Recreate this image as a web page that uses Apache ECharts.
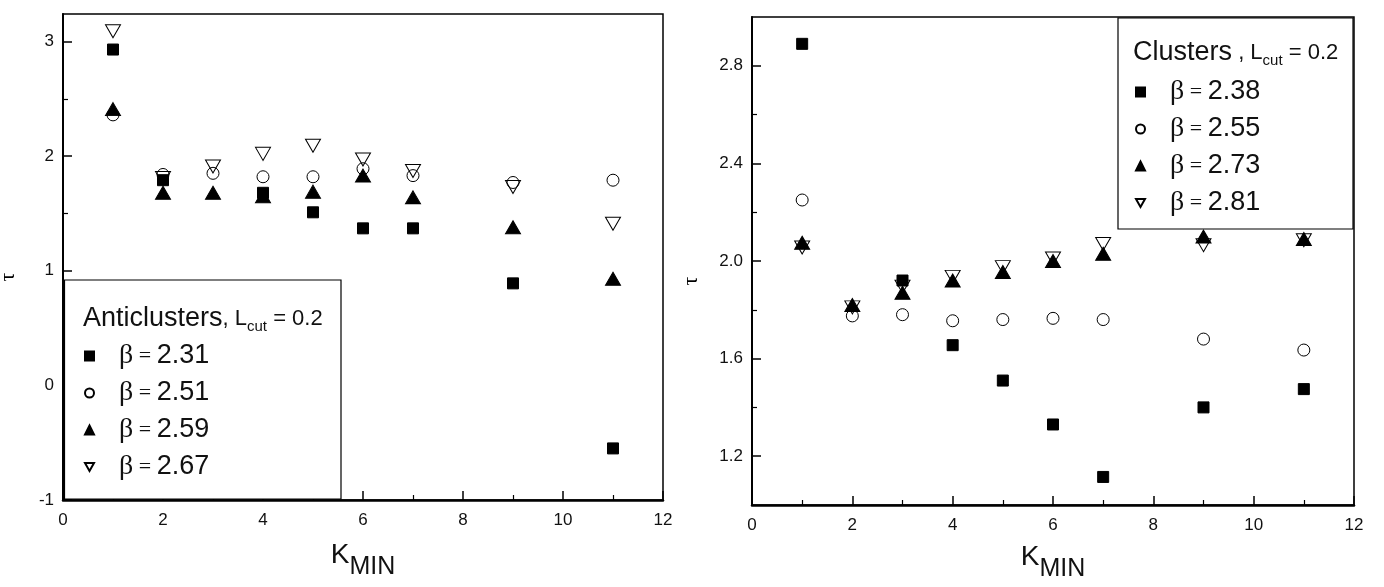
<!DOCTYPE html>
<html>
<head>
<meta charset="utf-8">
<script src="https://cdn.jsdelivr.net/npm/echarts@6/dist/echarts.min.js"></script>
<style>
  html, body { margin: 0; padding: 0; background: #fff; }
  #chart { width: 1384px; height: 587px; }
</style>
</head>
<body>
<div id="chart"></div>
<script>
// K_MIN values where points were measured
const kValues = [1, 2, 3, 4, 5, 6, 7, 9, 11];

// left panel: anticlusters
const betaLeft = [2.31, 2.51, 2.59, 2.67];
const antiSquare = [2.93, 1.79, null, 1.68, 1.51, 1.37, 1.37, 0.89, -0.55];
const antiCircle = [2.36, 1.84, 1.85, 1.82, 1.82, 1.89, 1.83, 1.77, 1.79];
const antiTriUp = [2.41, 1.68, 1.68, 1.65, 1.69, 1.83, 1.64, 1.38, 0.93];
const antiTriDown = [3.09, 1.81, 1.91, 2.02, 2.09, 1.97, 1.87, 1.73, 1.41];

// right panel: clusters
const betaRight = [2.38, 2.55, 2.73, 2.81];
const cluSquare = [2.89, null, 1.92, 1.655, 1.51, 1.33, 1.115, 1.40, 1.475];
const cluCircle = [2.25, 1.775, 1.78, 1.755, 1.76, 1.765, 1.76, 1.68, 1.635];
const cluTriUp = [2.075, 1.82, 1.87, 1.92, 1.955, 2.0, 2.03, 2.10, 2.09];
const cluTriDown = [2.055, 1.81, 1.895, 1.935, 1.975, 2.01, 2.07, 2.065, 2.085];

// tick labels
const xLabels = [0, 2, 4, 6, 8, 10, 12];
const yMajorLeft = [-1, 0, 1, 2, 3];
const yMinorLeft = [-0.5, 0.5, 1.5, 2.5];
const yMajorRight = [1.2, 1.6, 2.0, 2.4, 2.8];
const yMinorRight = [1.4, 1.8, 2.2, 2.6];

const SANS = "'Liberation Sans', Arial, sans-serif";
const SERIF = "'Liberation Serif', 'Times New Roman', serif";

const chart = echarts.init(document.getElementById('chart'), null, { renderer: 'canvas' });

const toPairs = vals => kValues.map((k, i) => vals[i] == null ? ['-', '-'] : [k, vals[i]]);
const betaName = b => 'β = ' + b.toFixed(2);

// four marker styles, same order for both panels
const markers = [
  { symbol: 'rect', symbolSize: 11, symbolRotate: 0, fill: '#000', icon: 'rect' },
  { symbol: 'circle', symbolSize: 12, symbolRotate: 0, fill: 'rgba(0,0,0,0)', icon: 'circle' },
  { symbol: 'triangle', symbolSize: [15, 13], symbolRotate: 0, fill: '#000', icon: 'triangle' },
  { symbol: 'triangle', symbolSize: [15, 13], symbolRotate: 180, fill: 'rgba(0,0,0,0)',
    icon: 'path://M0,0 L10,0 L5,9 Z' }
];

function makeSeries(betas, lists, gridIdx) {
  return lists.map((vals, i) => ({
    type: 'scatter',
    name: betaName(betas[i]),
    xAxisIndex: gridIdx,
    yAxisIndex: gridIdx * 2,
    symbol: markers[i].symbol,
    symbolSize: markers[i].symbolSize,
    symbolRotate: markers[i].symbolRotate,
    itemStyle: { color: markers[i].fill, borderColor: '#000', borderWidth: 1, opacity: 1 },
    emphasis: { disabled: true },
    data: toPairs(vals)
  }));
}

function xAxisFor(gridIdx, gap) {
  return {
    type: 'value', gridIndex: gridIdx, min: 0, max: 12, interval: 2,
    splitLine: { show: false },
    axisLine: { onZero: false, lineStyle: { color: '#000', width: 2.5 } },
    axisTick: { inside: true, length: 9, lineStyle: { color: '#000', width: 1.5 } },
    minorTick: { show: true, splitNumber: 2, length: 5, lineStyle: { color: '#000', width: 1.2 } },
    axisLabel: { color: '#111', fontSize: 17, fontFamily: SANS, margin: 12,
      customValues: xLabels },
    name: '{k|K}{s|MIN}',
    nameLocation: 'middle',
    nameGap: gap,
    nameTextStyle: {
      rich: {
        k: { fontSize: 28, fontFamily: SANS, color: '#111', lineHeight: 50 },
        s: { fontSize: 25, fontFamily: SANS, color: '#111', lineHeight: 12, verticalAlign: 'bottom' }
      }
    }
  };
}

function yAxesFor(gridIdx, min, max, major, minor, digits, gap) {
  return [{
    type: 'value', gridIndex: gridIdx, min: min, max: max, position: 'left',
    splitLine: { show: false },
    axisLine: { onZero: false, lineStyle: { color: '#000', width: 2 } },
    axisTick: { inside: true, length: 9, customValues: major, lineStyle: { color: '#000', width: 1.5 } },
    axisLabel: { color: '#111', fontSize: 17, fontFamily: SANS, margin: 9,
      customValues: major, formatter: v => v.toFixed(digits) },
    name: 'τ',
    nameLocation: 'middle',
    nameRotate: 90,
    nameGap: gap,
    nameTextStyle: { fontSize: 22, fontFamily: SERIF, color: '#000', padding: [0, 40, 0, 0] }
  }, {
    type: 'value', gridIndex: gridIdx, min: min, max: max, position: 'left', offset: 0,
    splitLine: { show: false },
    axisLine: { show: false, onZero: false },
    axisLabel: { show: false },
    axisTick: { inside: true, length: 5, customValues: minor, lineStyle: { color: '#000', width: 1.2 } }
  }];
}

const legendRich = {
  b: { fontFamily: SERIF, fontSize: 28, color: '#111', lineHeight: 28 },
  e: { fontFamily: SERIF, fontSize: 22, color: '#111', lineHeight: 28 },
  n: { fontFamily: SANS, fontSize: 27, color: '#111', lineHeight: 28 }
};
const legendFormatter = name => '{b|β}{e| = }{n|' + name.split('= ')[1] + '}';

function legendFor(betas, left, top) {
  return {
    orient: 'vertical', left: left, top: top, padding: 0,
    itemWidth: 9, itemHeight: 9, itemGap: 9,
    selectedMode: false,
    data: betas.map((b, i) => ({ name: betaName(b), icon: markers[i].icon })),
    formatter: legendFormatter,
    textStyle: { padding: [0, 0, 0, 20], rich: legendRich },
    z: 5
  };
}

const titleRich = {
  a: { fontSize: 27, fontFamily: SANS, fontWeight: 'normal', color: '#111', lineHeight: 30 },
  c: { fontSize: 22, fontFamily: SANS, fontWeight: 'normal', color: '#111', lineHeight: 30 },
  s: { fontSize: 15, fontFamily: SANS, fontWeight: 'normal', color: '#111', lineHeight: 10, verticalAlign: 'bottom' }
};

chart.setOption({
  animation: false,
  backgroundColor: '#fff',
  grid: [
    { left: 63, right: 721, top: 14, bottom: 87, show: true, borderColor: '#000', borderWidth: 1.5,
      outerBoundsMode: 'none', containLabel: false },
    { left: 752, right: 30, top: 17, bottom: 82, show: true, borderColor: '#000', borderWidth: 1.5,
      outerBoundsMode: 'none', containLabel: false }
  ],
  xAxis: [xAxisFor(0, 30), xAxisFor(1, 27)],
  yAxis: [
    ...yAxesFor(0, -1, 3.24, yMajorLeft, yMinorLeft, 0, 44),
    ...yAxesFor(1, 1.0, 3.0, yMajorRight, yMinorRight, 1, 50)
  ],
  graphic: [
    { type: 'rect', z: 3, shape: { x: 64.5, y: 280, width: 276.5, height: 219 },
      style: { fill: '#fff', stroke: '#000', lineWidth: 1.2 } },
    { type: 'rect', z: 3, shape: { x: 1118, y: 18, width: 235, height: 211 },
      style: { fill: '#fff', stroke: '#000', lineWidth: 1.2 } }
  ],
  title: [
    { left: 83, top: 304, padding: 0, z: 6,
      text: '{a|Anticlusters}{c|, L}{s|cut}{c| = 0.2}',
      textStyle: { fontWeight: 'normal', rich: titleRich } },
    { left: 1133, top: 38, padding: 0, z: 6,
      text: '{a|Clusters}{c| , L}{s|cut}{c| = 0.2}',
      textStyle: { fontWeight: 'normal', rich: titleRich } }
  ],
  legend: [legendFor(betaLeft, 84, 342), legendFor(betaRight, 1135, 78)],
  series: [
    ...makeSeries(betaLeft, [antiSquare, antiCircle, antiTriUp, antiTriDown], 0),
    ...makeSeries(betaRight, [cluSquare, cluCircle, cluTriUp, cluTriDown], 1)
  ]
});
</script>
</body>
</html>
